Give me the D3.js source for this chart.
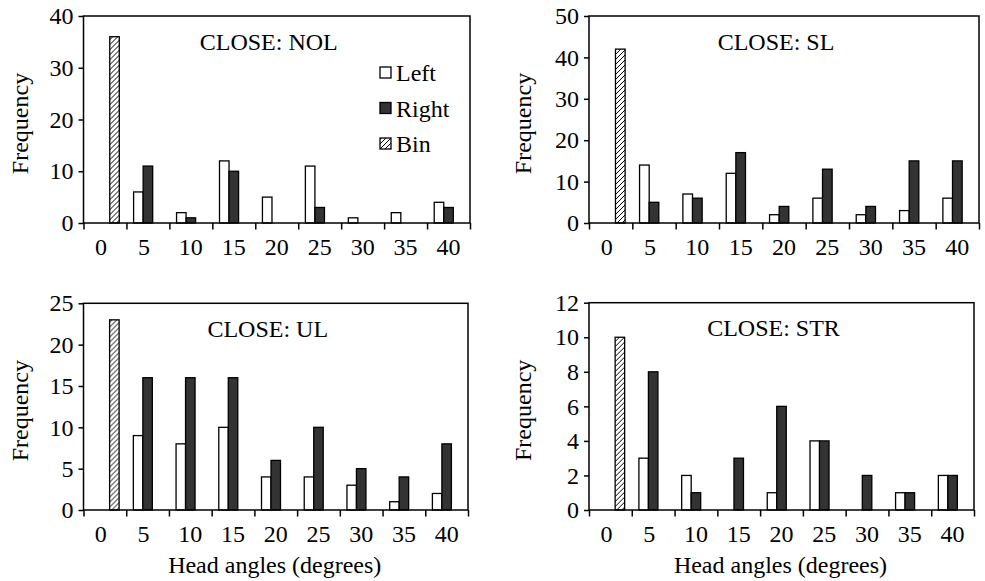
<!DOCTYPE html>
<html>
<head>
<meta charset="utf-8">
<script src="https://cdn.jsdelivr.net/npm/d3@7"></script>
<style>
  body { margin: 0; background: #fff; }
  text { font-family: "Liberation Serif", "Times New Roman", serif; fill: #000; }
</style>
</head>
<body>
<script>
'use strict';

// categories (head angle bins) and series
const angles = ['0', '5', '10', '15', '20', '25', '30', '35', '40'];
const seriesNames = ['Left', 'Right', 'Bin'];

// CLOSE: NOL
const nolLeft = [null, 6, 2, 12, 5, 11, 1, 2, 4];
const nolRight = [null, 11, 1, 10, null, 3, null, null, 3];
const nolBin = [36, null, null, null, null, null, null, null, null];

// CLOSE: SL
const slLeft = [null, 14, 7, 12, 2, 6, 2, 3, 6];
const slRight = [null, 5, 6, 17, 4, 13, 4, 15, 15];
const slBin = [42, null, null, null, null, null, null, null, null];

// CLOSE: UL
const ulLeft = [null, 9, 8, 10, 4, 4, 3, 1, 2];
const ulRight = [null, 16, 16, 16, 6, 10, 5, 4, 8];
const ulBin = [23, null, null, null, null, null, null, null, null];

// CLOSE: STR
const strLeft = [null, 3, 2, null, 1, 4, null, 1, 2];
const strRight = [null, 8, 1, 3, 6, 4, 2, 1, 2];
const strBin = [10, null, null, null, null, null, null, null, null];

const yTicksNOL = [0, 10, 20, 30, 40];
const yTicksSL = [0, 10, 20, 30, 40, 50];
const yTicksUL = [0, 5, 10, 15, 20, 25];
const yTicksSTR = [0, 2, 4, 6, 8, 10, 12];

const panels = [
  {title: 'CLOSE: NOL', left: nolLeft, right: nolRight, bin: nolBin, ticks: yTicksNOL,
    box: {x0: 83.5, x1: 470, y0: 16, y1: 223}, yTitleX: 28, legend: true, xTitle: false},
  {title: 'CLOSE: SL', left: slLeft, right: slRight, bin: slBin, ticks: yTicksSL,
    box: {x0: 589, x1: 979, y0: 16, y1: 223}, yTitleX: 531, legend: false, xTitle: false},
  {title: 'CLOSE: UL', left: ulLeft, right: ulRight, bin: ulBin, ticks: yTicksUL,
    box: {x0: 83.5, x1: 468, y0: 303.3, y1: 510}, yTitleX: 28, legend: false, xTitle: true},
  {title: 'CLOSE: STR', left: strLeft, right: strRight, bin: strBin, ticks: yTicksSTR,
    box: {x0: 589, x1: 974, y0: 302.7, y1: 510}, yTitleX: 531, legend: false, xTitle: true}
];

const fills = {Left: '#ffffff', Right: '#333333', Bin: 'url(#hatch)'};
const fontSize = 24;

const svg = d3.select('body').append('svg')
  .attr('width', 985)
  .attr('height', 581);

// diagonal hatch for the "Bin" series
const pattern = svg.append('defs').append('pattern')
  .attr('id', 'hatch')
  .attr('patternUnits', 'userSpaceOnUse')
  .attr('width', 5)
  .attr('height', 5);
pattern.append('rect').attr('width', 5).attr('height', 5).attr('fill', '#fff');
pattern.append('path')
  .attr('d', 'M-1,1 l2,-2 M0,5 l5,-5 M4,6 l2,-2')
  .attr('stroke', '#000')
  .attr('stroke-width', 1);

panels.forEach(p => {
  const b = p.box;
  const width = b.x1 - b.x0;
  const height = b.y1 - b.y0;

  const g = svg.append('g').attr('transform', 'translate(' + [b.x0, b.y0] + ')');

  const x0 = d3.scaleBand().domain(angles).range([0, width]);
  const x1 = d3.scaleBand().domain(seriesNames).range([0, x0.bandwidth()]).paddingOuter(0.75);
  const xEdge = d3.scaleLinear().domain([0, angles.length]).range([0, width]);
  const y = d3.scaleLinear().domain([0, d3.max(p.ticks)]).range([height, 0]);

  const rows = angles.map((a, i) => ({
    angle: a,
    values: [
      {key: 'Left', value: p.left[i]},
      {key: 'Right', value: p.right[i]},
      {key: 'Bin', value: p.bin[i]}
    ].filter(d => d.value != null)
  }));

  g.selectAll('g.cat')
    .data(rows)
    .enter()
    .append('g')
    .attr('class', 'cat')
    .attr('transform', d => 'translate(' + x0(d.angle) + ',0)')
    .selectAll('rect')
    .data(d => d.values)
    .enter()
    .append('rect')
    .attr('x', d => x1(d.key))
    .attr('y', d => y(d.value))
    .attr('width', x1.bandwidth())
    .attr('height', d => height - y(d.value))
    .attr('fill', d => fills[d.key])
    .attr('stroke', '#000')
    .attr('stroke-width', 1.3);

  // frame
  g.append('rect')
    .attr('width', width)
    .attr('height', height)
    .attr('fill', 'none')
    .attr('stroke', '#000')
    .attr('stroke-width', 1.5);

  // y axis
  const yAxis = g.append('g')
    .call(d3.axisLeft(y).tickValues(p.ticks).tickSize(5).tickPadding(5).tickFormat(d3.format('d')));
  yAxis.select('.domain').remove();
  yAxis.selectAll('text').attr('font-size', fontSize).attr('font-family', null);
  yAxis.selectAll('line').attr('stroke-width', 1.5);

  // x tick marks at bin edges
  const xTicks = g.append('g')
    .attr('transform', 'translate(0,' + height + ')')
    .call(d3.axisBottom(xEdge).tickValues(d3.range(angles.length + 1)).tickSize(6.5).tickFormat(''));
  xTicks.select('.domain').remove();
  xTicks.selectAll('line').attr('stroke-width', 1.5);

  // x category labels
  const xLabels = g.append('g')
    .attr('transform', 'translate(0,' + height + ')')
    .call(d3.axisBottom(x0).tickSize(0).tickPadding(14.5));
  xLabels.select('.domain').remove();
  xLabels.selectAll('text')
    .attr('font-size', fontSize)
    .attr('font-family', null)
    .attr('dx', d => d.length === 1 ? -4 : 0);

  // panel title
  g.append('text')
    .attr('x', width / 2 - 8)
    .attr('y', 33.5)
    .attr('text-anchor', 'middle')
    .attr('font-size', fontSize)
    .text(p.title);

  // y title
  g.append('text')
    .attr('transform', 'translate(' + (p.yTitleX - b.x0) + ',' + (height / 2 + 4) + ') rotate(-90)')
    .attr('text-anchor', 'middle')
    .attr('font-size', fontSize)
    .text('Frequency');

  if (p.xTitle) {
    g.append('text')
      .attr('x', width / 2 - 1)
      .attr('y', height + 63)
      .attr('text-anchor', 'middle')
      .attr('font-size', fontSize)
      .text('Head angles (degrees)');
  }

  if (p.legend) {
    const legend = g.append('g')
      .attr('transform', 'translate(' + (width - 90) + ',57)');
    const item = legend.selectAll('g')
      .data(seriesNames)
      .enter()
      .append('g')
      .attr('transform', (d, i) => 'translate(0,' + i * 35.5 + ')');
    item.append('rect')
      .attr('x', 0)
      .attr('y', -6)
      .attr('width', 11)
      .attr('height', 11)
      .attr('fill', d => fills[d])
      .attr('stroke', '#000')
      .attr('stroke-width', 1.3);
    item.append('text')
      .attr('x', 16)
      .attr('y', 0)
      .attr('dy', '0.35em')
      .attr('font-size', fontSize)
      .text(d => d);
  }
});
</script>
</body>
</html>
